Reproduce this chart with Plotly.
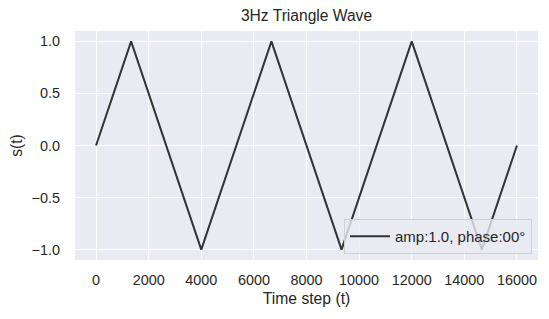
import plotly.graph_objects as go

# Triangle wave vertices
t_vals = [0, 1333, 4000, 6667, 9333, 12000, 14667, 16000]
s_vals = [0.0, 1.0, -1.0, 1.0, -1.0, 1.0, -1.0, 0.0]
x_ticks = [0, 2000, 4000, 6000, 8000, 10000, 12000, 14000, 16000]
y_ticks = [-1.0, -0.5, 0.0, 0.5, 1.0]
series_name = "amp:1.0, phase:00°"

FONT = "Liberation Sans, Arial, sans-serif"
TXT = "#262626"

# page body has an 8px default margin, so the figure is drawn 8px smaller
W, H = 541, 311

fig = go.Figure()
fig.add_trace(go.Scatter(x=t_vals, y=s_vals, mode="lines", name=series_name,
                         line=dict(color="#333333", width=2)))

fig.update_layout(
    width=W, height=H,
    margin=dict(l=67, r=11, t=23, b=59, autoexpand=False),
    paper_bgcolor="white", plot_bgcolor="#EAEAF2",
    font=dict(family=FONT, color=TXT, size=14.4),
    title=dict(text="3Hz Triangle Wave", x=0.5, xref="paper", xanchor="center",
               y=1 - 8 / H, yref="container", yanchor="middle", automargin=False,
               font=dict(size=15.6, color=TXT, family=FONT)),
    showlegend=True,
    legend=dict(x=1 - 6 / 463, y=6 / 229, xanchor="right", yanchor="bottom",
                itemwidth=40,
                bgcolor="rgba(234,234,242,0.8)", bordercolor="#D0D0D0", borderwidth=1,
                font=dict(size=15, color=TXT, family=FONT)),
)
fig.update_xaxes(range=[-800, 16800], tickvals=x_ticks, ticktext=[str(v) for v in x_ticks],
                 showgrid=True, gridcolor="white", gridwidth=1.3, zeroline=False,
                 showline=False, ticks="", ticklabelstandoff=10, automargin=False,
                 title=dict(text="Time step (t)", font=dict(size=15.7, color=TXT), standoff=5))
fig.update_yaxes(range=[-1.1, 1.1], tickvals=y_ticks, tickformat=".1f",
                 showgrid=True, gridcolor="white", gridwidth=1.3, zeroline=False,
                 showline=False, ticks="", ticklabelstandoff=14, automargin=False,
                 title=dict(text="s(t)", font=dict(size=15.7, color=TXT), standoff=5))

fig.write_html("out.html")
